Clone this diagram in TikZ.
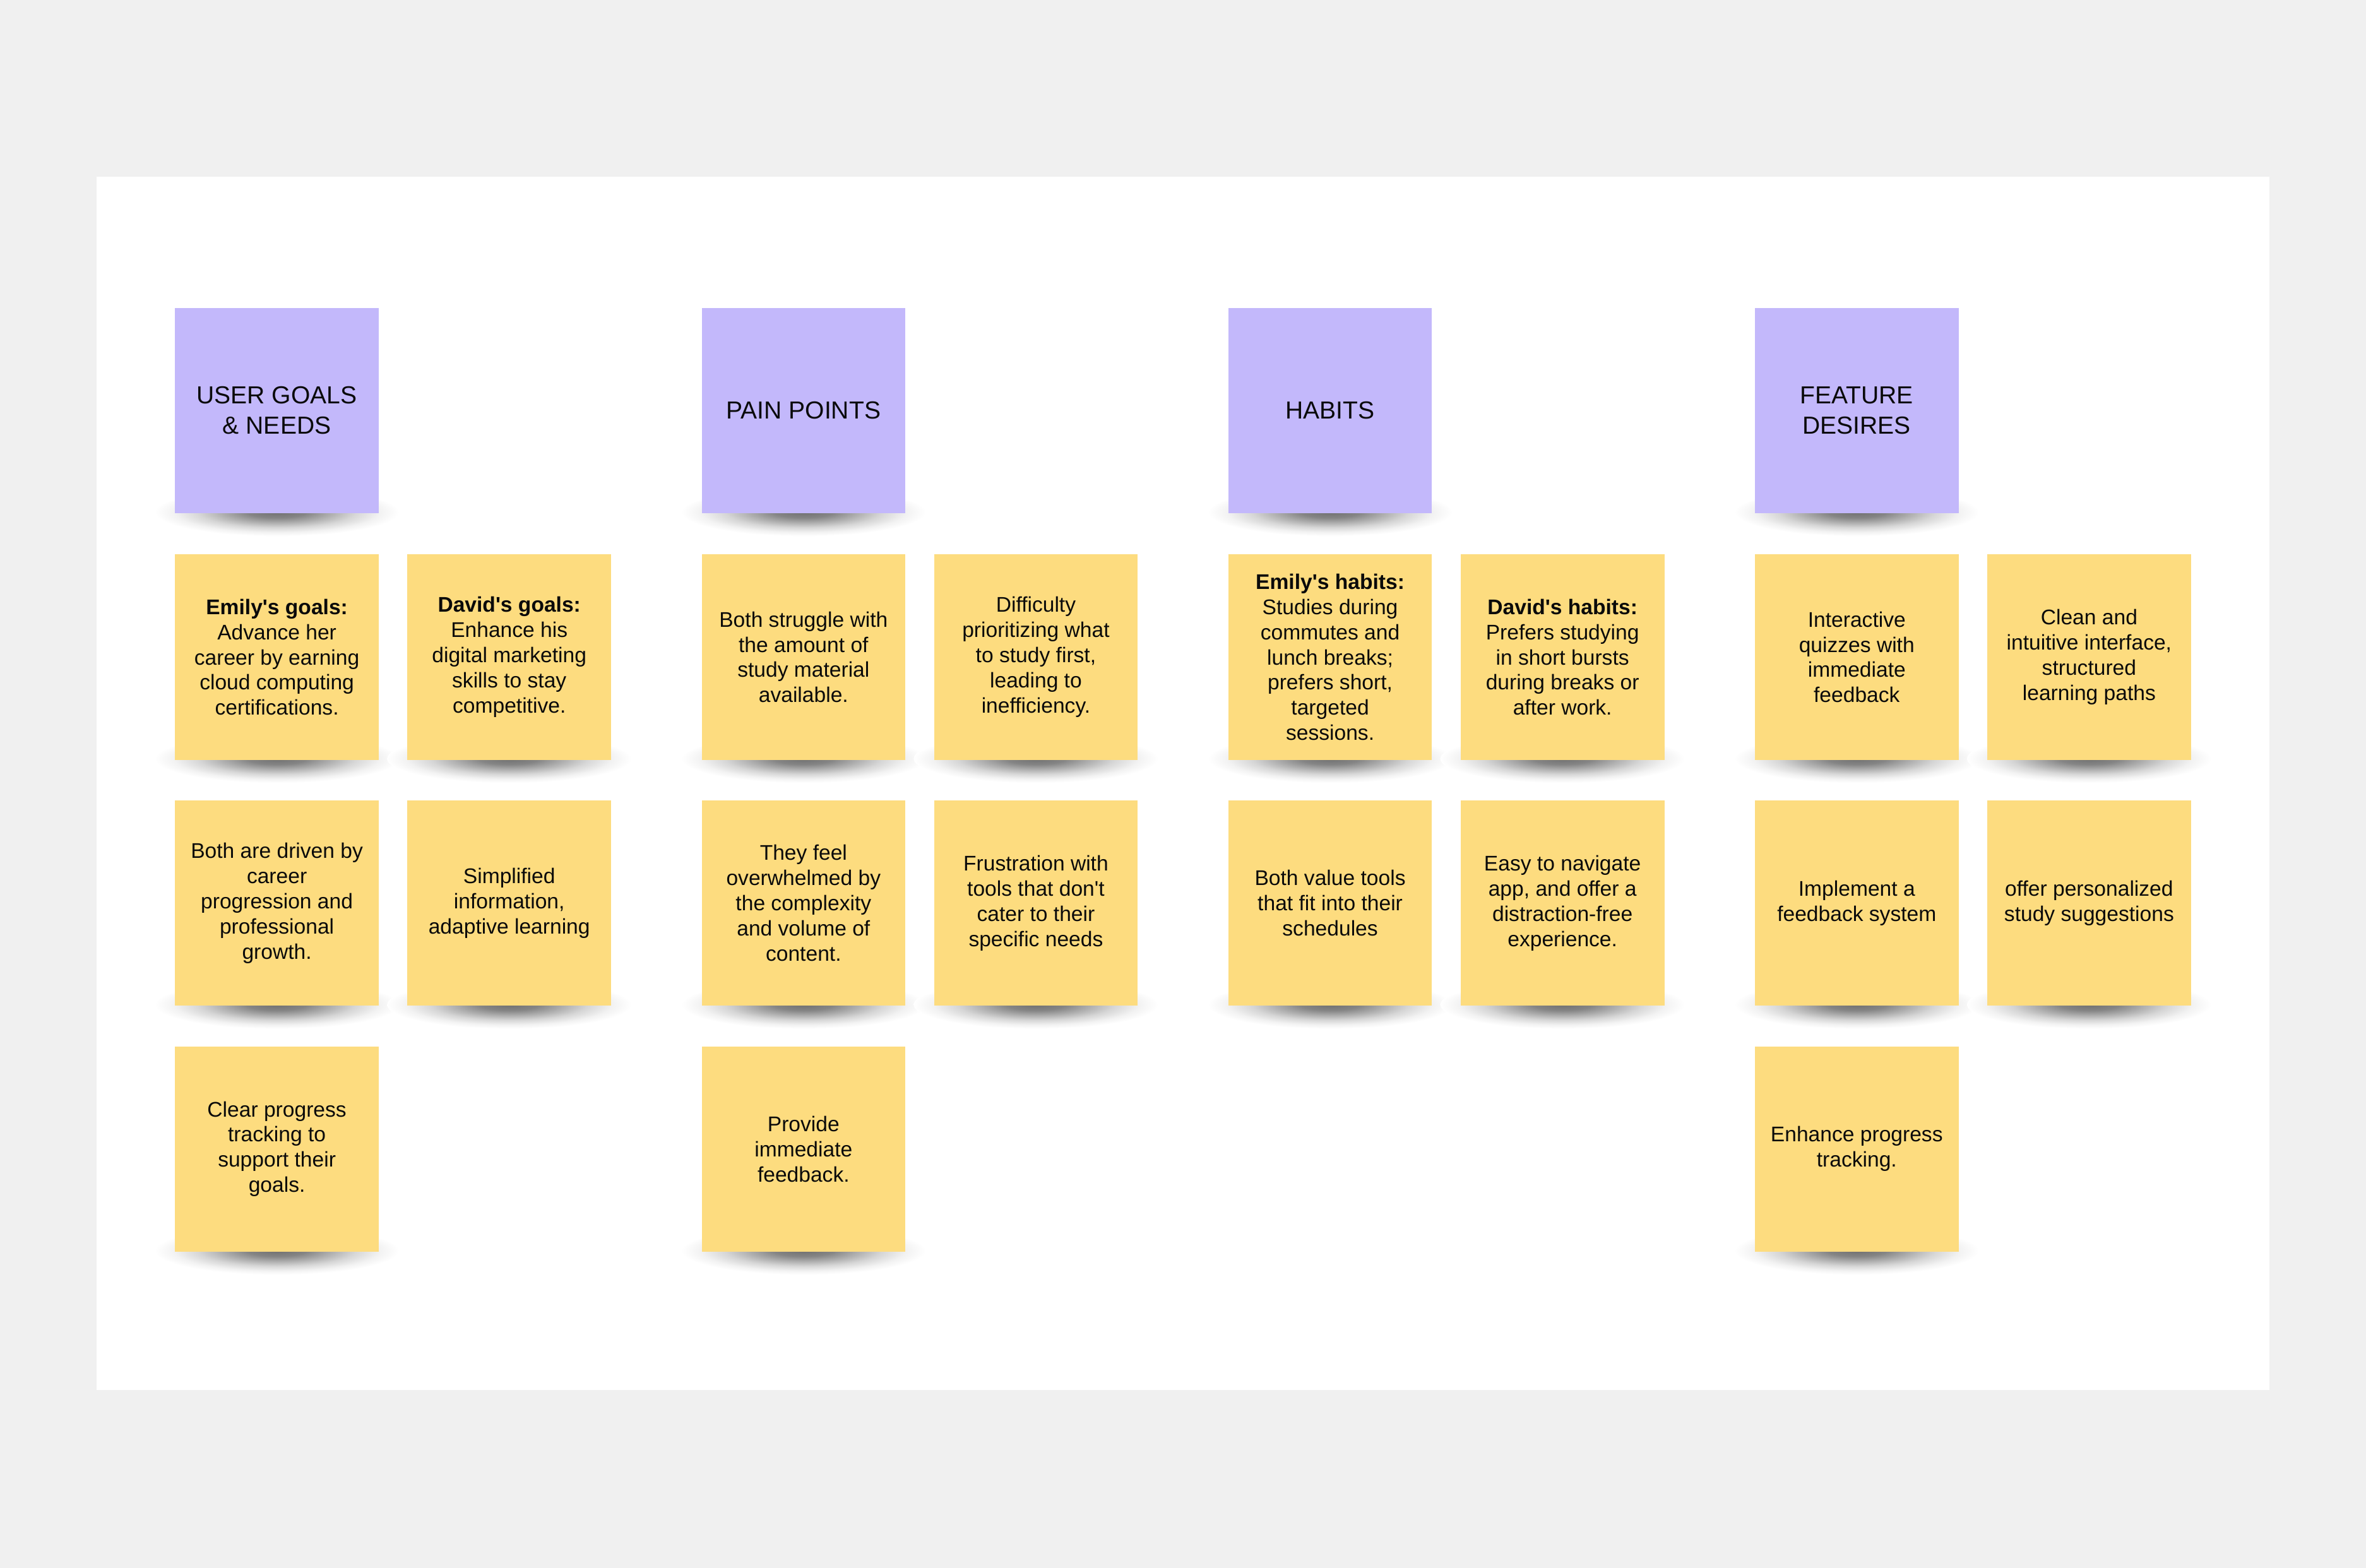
\documentclass[tikz,border=0pt]{standalone}
\usepackage{fontspec}
\newfontfamily\stickyfont{Liberation Sans}
\definecolor{pagebg}{HTML}{F0F0F0}
\definecolor{headpurple}{HTML}{C3B8FB}
\definecolor{noteyellow}{HTML}{FDDC7F}
\definecolor{inktext}{HTML}{0A0A0A}
\pgfdeclareradialshading{noteshadow}{\pgfpoint{0bp}{0bp}}{color(0bp)=(black!56); color(6bp)=(black!48); color(11bp)=(black!32); color(16bp)=(black!16); color(21bp)=(black!5); color(25bp)=(white); color(50bp)=(white)}
\pgfdeclarelayer{bglayer}
\pgfdeclarelayer{shadowlayer}
\pgfsetlayers{bglayer,shadowlayer,main}
\tikzset{
  note/.style={rectangle, minimum width=2.7cm, minimum height=2.72cm, inner sep=0pt,
    align=center, text=inktext, fill=noteyellow,
    font=\stickyfont\fontsize{8}{9.5}\selectfont},
  header/.style={note, fill=headpurple, font=\stickyfont\fontsize{9.3}{11.4}\selectfont},
}
\newcommand\stickynote[4]{%
  \node[#3] (#1) at (#2) {#4};
  \begin{pgfonlayer}{shadowlayer}
    \shade[shading=noteshadow] ([yshift=0.02cm]#1.south) ellipse (1.62cm and 0.32cm);
  \end{pgfonlayer}}
\begin{document}
\begin{tikzpicture}[x=0.02cm,y=-0.02cm]
\begin{pgfonlayer}{bglayer}
  \fill[pagebg] (0,0) rectangle (1568,1039);
  \fill[white] (64,117) rectangle (1504,921);
\end{pgfonlayer}
\useasboundingbox (0,0) rectangle (1568,1039);
% Group A
\stickynote{hA}{183.5,272}{header}{USER GOALS\\\& NEEDS}
\stickynote{a11}{183.5,435.5}{note}{\textbf{Emily's goals:}\\Advance her\\career by earning\\cloud computing\\certifications.}
\stickynote{a12}{337.5,435.5}{note}{\textbf{David's goals:}\\Enhance his\\digital marketing\\skills to stay\\competitive.}
\stickynote{a21}{183.5,598.5}{note}{Both are driven by\\career\\progression and\\professional\\growth.}
\stickynote{a22}{337.5,598.5}{note}{Simplified\\information,\\adaptive learning}
\stickynote{a31}{183.5,761.5}{note}{Clear progress\\tracking to\\support their\\goals.}
% Group B
\stickynote{hB}{532.5,272}{header}{PAIN POINTS}
\stickynote{b11}{532.5,435.5}{note}{Both struggle with\\the amount of\\study material\\available.}
\stickynote{b12}{686.5,435.5}{note}{Difficulty\\prioritizing what\\to study first,\\leading to\\inefficiency.}
\stickynote{b21}{532.5,598.5}{note}{They feel\\overwhelmed by\\the complexity\\and volume of\\content.}
\stickynote{b22}{686.5,598.5}{note}{Frustration with\\tools that don't\\cater to their\\specific needs}
\stickynote{b31}{532.5,761.5}{note}{Provide\\immediate\\feedback.}
% Group C
\stickynote{hC}{881.5,272}{header}{HABITS}
\stickynote{c11}{881.5,435.5}{note}{\textbf{Emily's habits:}\\Studies during\\commutes and\\lunch breaks;\\prefers short,\\targeted\\sessions.}
\stickynote{c12}{1035.5,435.5}{note}{\textbf{David's habits:}\\Prefers studying\\in short bursts\\during breaks or\\after work.}
\stickynote{c21}{881.5,598.5}{note}{Both value tools\\that fit into their\\schedules}
\stickynote{c22}{1035.5,598.5}{note}{Easy to navigate\\app, and offer a\\distraction-free\\experience.}
% Group D
\stickynote{hD}{1230.5,272}{header}{FEATURE\\DESIRES}
\stickynote{d11}{1230.5,435.5}{note}{Interactive\\quizzes with\\immediate\\feedback}
\stickynote{d12}{1384.5,435.5}{note}{Clean and\\intuitive interface,\\structured\\learning paths}
\stickynote{d21}{1230.5,598.5}{note}{Implement a\\feedback system}
\stickynote{d22}{1384.5,598.5}{note}{offer personalized\\study suggestions}
\stickynote{d31}{1230.5,761.5}{note}{Enhance progress\\tracking.}
\end{tikzpicture}
\end{document}
